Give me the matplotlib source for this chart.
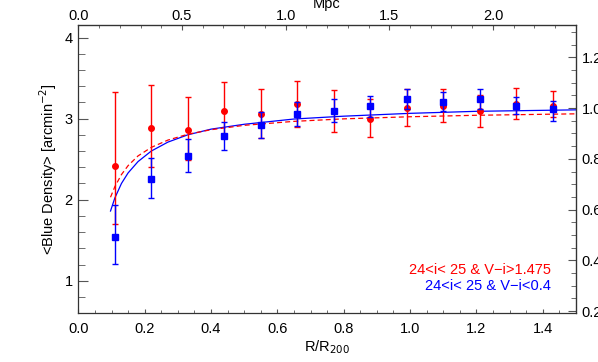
import numpy as np
import matplotlib
matplotlib.use("Agg")
import matplotlib.pyplot as plt
from matplotlib.ticker import MultipleLocator, FormatStrFormatter

plt.rcParams['font.family'] = ['Liberation Sans', 'DejaVu Sans']
plt.rcParams['font.size'] = 10.5

# radial bins (R/R200)
r = [0.11, 0.22, 0.33, 0.44, 0.55, 0.66, 0.77, 0.88, 0.99, 1.10, 1.21, 1.32, 1.43]

# red sample: 24<i<25 & V-i>1.475
red = [2.42, 2.88, 2.86, 3.10, 3.06, 3.18, 3.09, 3.00, 3.13, 3.16, 3.09, 3.18, 3.15]
red_up = [0.91, 0.54, 0.41, 0.35, 0.31, 0.29, 0.26, 0.24, 0.23, 0.21, 0.20, 0.20, 0.19]
red_lo = [0.72, 0.48, 0.37, 0.32, 0.30, 0.28, 0.25, 0.23, 0.22, 0.20, 0.19, 0.18, 0.13]

# blue sample: 24<i<25 & V-i<0.4
blue = [1.54, 2.26, 2.54, 2.78, 2.92, 3.06, 3.10, 3.15, 3.24, 3.21, 3.24, 3.16, 3.12]
blue_up = [0.39, 0.26, 0.21, 0.18, 0.16, 0.15, 0.14, 0.13, 0.12, 0.12, 0.12, 0.11, 0.10]
blue_lo = [0.33, 0.24, 0.20, 0.17, 0.155, 0.15, 0.14, 0.13, 0.12, 0.12, 0.12, 0.10, 0.15]

# fitted profiles
fit_r = [0.097, 0.11, 0.13, 0.15, 0.18, 0.22, 0.27, 0.33, 0.40, 0.50, 0.65, 0.80, 1.00, 1.20, 1.50]
fit_blue = [1.86, 2.02, 2.20, 2.33, 2.47, 2.60, 2.71, 2.80, 2.87, 2.93, 2.995, 3.03, 3.065, 3.09, 3.108]
fit_red = [2.03, 2.16, 2.31, 2.42, 2.54, 2.645, 2.735, 2.807, 2.863, 2.917, 2.966, 2.997, 3.023, 3.041, 3.059]

mpc_per_r200 = 1.6
bkg = 3.13

fig = plt.figure(figsize=(5.98, 3.62), dpi=100)
ax = fig.add_axes([0.131, 0.136, 0.832, 0.795])

ax.plot(fit_r, fit_blue, color='blue', lw=0.9, zorder=2)
ax.plot(fit_r, fit_red, color='red', lw=0.9, ls=(0, (4, 2.5)), zorder=2)

ax.errorbar(r, red, yerr=[red_lo, red_up], fmt='o', color='red', ms=4,
            elinewidth=1, capsize=2.5, capthick=1, zorder=3)
ax.errorbar(r, blue, yerr=[blue_lo, blue_up], fmt='s', color='blue', ms=4,
            elinewidth=1, capsize=2.5, capthick=1, zorder=4)

ax.set_xlim(0, 1.5)
ax.set_ylim(0.605, 4.155)

ax.xaxis.set_major_locator(MultipleLocator(0.2))
ax.xaxis.set_minor_locator(MultipleLocator(0.05))
ax.yaxis.set_major_locator(MultipleLocator(1))
ax.yaxis.set_minor_locator(MultipleLocator(0.2))
ax.xaxis.set_major_formatter(FormatStrFormatter('%.1f'))
ax.tick_params(which='both', direction='in', color='#555555')
ax.tick_params(axis='x', which='major', length=3.2, pad=7)
ax.tick_params(axis='x', which='minor', length=2.2)
ax.tick_params(axis='y', which='major', length=7.5, pad=4)
ax.tick_params(axis='y', which='minor', length=4.7)

for s in ax.spines.values():
    s.set_color('#333333')
    s.set_linewidth(0.9)

ax.set_xlabel('R/R$_{200}$', fontsize=10.5, labelpad=1)
ax.set_ylabel('<Blue Density> [arcmin$^{-2}$]', fontsize=10.5, labelpad=4)

top = ax.secondary_xaxis('top', functions=(lambda x: x * mpc_per_r200,
                                           lambda x: x / mpc_per_r200))
top.xaxis.set_major_locator(MultipleLocator(0.5))
top.xaxis.set_minor_locator(MultipleLocator(0.1))
top.xaxis.set_major_formatter(FormatStrFormatter('%.1f'))
top.tick_params(which='both', direction='in', color='#555555')
top.tick_params(which='major', length=3.6, pad=1.5)
top.tick_params(which='minor', length=1.8)
top.set_xlabel('Mpc', fontsize=10.5, labelpad=1)

right = ax.secondary_yaxis('right', functions=(lambda y: y / bkg,
                                               lambda y: y * bkg))
right.yaxis.set_major_locator(MultipleLocator(0.2))
right.yaxis.set_minor_locator(MultipleLocator(0.05))
right.yaxis.set_major_formatter(FormatStrFormatter('%.1f'))
right.tick_params(which='both', direction='in', color='#555555')
right.tick_params(which='major', length=5.8, pad=4)
right.tick_params(which='minor', length=3.6)

ax.text(0.950, 0.148, '24<i< 25 & V\u2212i>1.475', color='red', ha='right',
        va='center', transform=ax.transAxes, fontsize=10.5)
ax.text(0.950, 0.093, '24<i< 25 & V\u2212i<0.4', color='blue', ha='right',
        va='center', transform=ax.transAxes, fontsize=10.5)

fig.savefig('out.png', dpi=100)
